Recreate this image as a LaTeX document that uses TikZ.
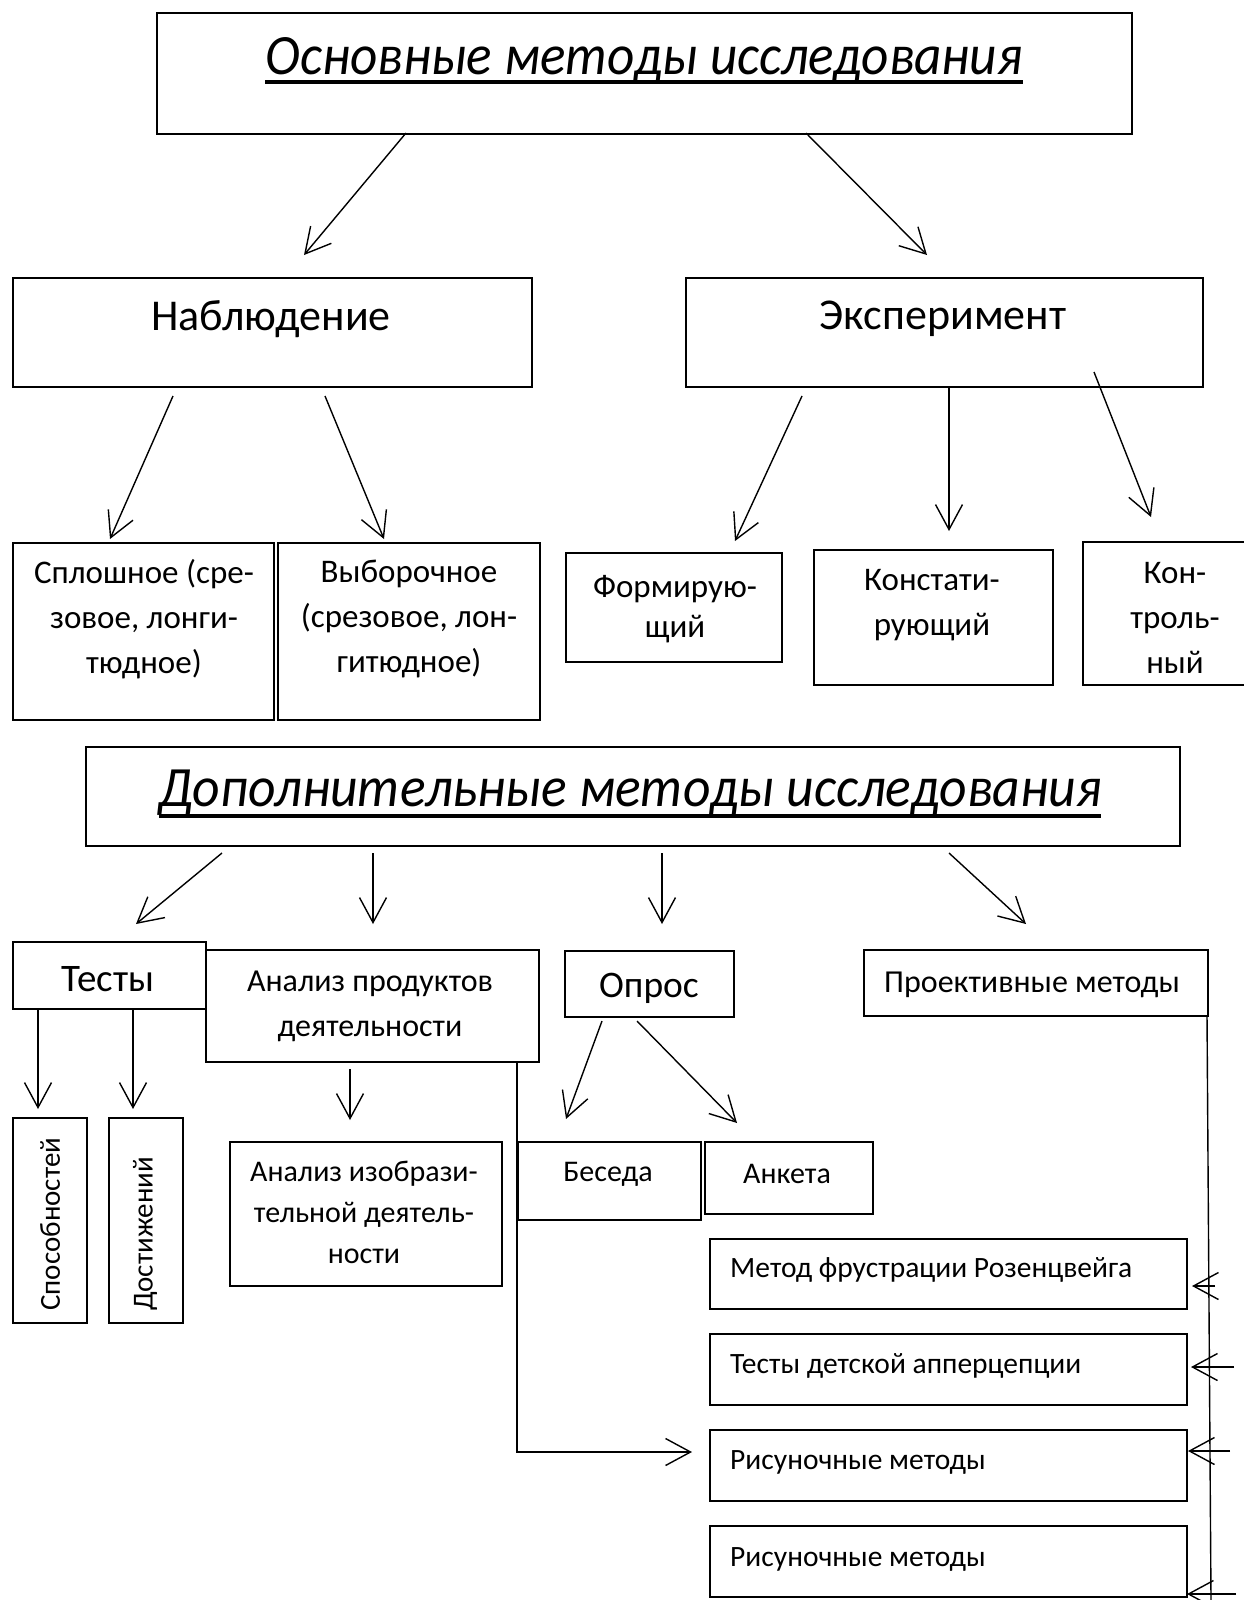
\documentclass[tikz,border=0pt]{standalone}
\usepackage{graphicx}
\usepackage{fontspec}
\setmainfont{Carlito}
\newsavebox\ulbox
\newcommand\thickul[2]{\sbox\ulbox{#2}\rlap{\rule[-#1]{\wd\ulbox}{4pt}}\usebox\ulbox}
\usetikzlibrary{arrows.meta}
\begin{document}
\begin{tikzpicture}[x=1pt,y=-1pt,
  bx/.style={draw, line width=1.6pt, inner sep=0pt, anchor=north west},
  tbx/.style={bx, line width=2.2pt},
  arr/.style={line width=1.4pt, -{Straight Barb[length=25pt,width=27pt,line width=1.4pt]}},
  ln/.style={line width=1.4pt},
  ttl/.style={inner sep=0pt, anchor=base, font=\fontsize{57}{70}\selectfont\itshape},
  big/.style={inner sep=0pt, align=center, yshift=-3pt, font=\fontsize{44}{52}\selectfont},
  mid/.style={inner sep=0pt, align=center, yshift=-2pt, font=\fontsize{33}{45}\selectfont},
  sm/.style={inner sep=0pt, align=center, yshift=-2pt, font=\fontsize{30}{41}\selectfont},
  rt/.style={inner sep=0pt, anchor=west, yshift=-3pt, font=\fontsize{29.5}{40}\selectfont}]
\useasboundingbox[fill=white] (0,0) rectangle (1244,1600);
% ---------- main methods
\node[tbx, minimum width=975pt, minimum height=121pt] (top) at (156,12) {};
\node[ttl] (ttop) at (644,74.5) {\scalebox{0.933}[1]{\thickul{10pt}{Основные методы исследования}}};
\node[bx, minimum width=519pt, minimum height=109pt] (nab) at (12,277) {};
\node[big] (tnab) at (271,316) {Наблюдение};
\node[bx, minimum width=517pt, minimum height=109pt] (exp) at (685,277) {};
\node[big] (texp) at (943,316) {Эксперимент};
% row 3
\node[bx, minimum width=261pt, minimum height=177pt] (spl) at (12,542) {};
\node[mid, yshift=1pt] (tspl) at (144,618) {Сплошное (сре-\\зовое, лонги-\\тюдное)};
\node[bx, minimum width=262pt, minimum height=177pt] (vyb) at (277,542) {};
\node[mid, yshift=1pt] (tvyb) at (409,618) {Выборочное\\(срезовое, лон-\\гитюдное)};
\node[bx, minimum width=216pt, minimum height=109pt] (form) at (565,552) {};
\node[mid, font=\fontsize{33}{40}\selectfont] (tform) at (675,607) {Формирую-\\щий};
\node[bx, minimum width=239pt, minimum height=135pt] (kon) at (813,549) {};
\node[mid, yshift=-1pt] (tkon) at (932,602) {Констати-\\рующий};
\node[bx, minimum width=170pt, minimum height=143pt] (kontr) at (1082,541) {};
\node[mid, yshift=1pt] (tkontr) at (1175,617) {Кон-\\троль-\\ный};
% ---------- additional methods
\node[tbx, minimum width=1094pt, minimum height=99pt] (dop) at (85,746) {};
\node[ttl] (tdop) at (630,806) {\scalebox{0.94}[1]{\thickul{12pt}{Дополнительные методы исследования}}};
\node[bx, minimum width=193pt, minimum height=67pt] (test) at (12,941) {};
\node[big, font=\fontsize{39}{48}\selectfont] (ttest) at (108,976) {Тесты};
\node[bx, minimum width=333pt, minimum height=112pt] (anal) at (205,949) {};
\node[mid, yshift=-1pt, font=\fontsize{32}{45}\selectfont] (tanal) at (370,1003) {Анализ продуктов\\деятельности};
\node[bx, minimum width=169pt, minimum height=66pt] (opr) at (564,950) {};
\node[big, font=\fontsize{37.5}{48}\selectfont] (topr) at (649,985) {Опрос};
\node[bx, minimum width=344pt, minimum height=66pt] (proj) at (863,949) {};
\node[mid, yshift=-1pt, font=\fontsize{32}{45}\selectfont] (tproj) at (1032,982) {Проективные методы};
% row 5
\node[bx, minimum width=74pt, minimum height=205pt] (sposob) at (12,1117) {};
\node[sm, rotate=90, anchor=west, yshift=2pt, font=\fontsize{29}{40}\selectfont] (tsposob) at (52,1309) {Способностей};
\node[bx, minimum width=74pt, minimum height=205pt] (dost) at (108,1117) {};
\node[sm, rotate=90, anchor=west, yshift=2pt, font=\fontsize{29}{40}\selectfont] (tdost) at (147,1309) {Достижений};
\node[bx, minimum width=272pt, minimum height=144pt] (izo) at (229,1141) {};
\node[sm, yshift=2pt] (tizo) at (364,1212) {Анализ изобрази-\\тельной деятель-\\ности};
\node[bx, minimum width=183pt, minimum height=78pt] (bes) at (517,1141) {};
\node[sm, yshift=-1pt] (tbes) at (608,1171) {Беседа};
\node[bx, minimum width=168pt, minimum height=72pt] (ank) at (704,1141) {};
\node[sm, yshift=-1pt] (tank) at (787,1171) {Анкета};
% right stack
\node[bx, minimum width=477pt, minimum height=70pt] (r1) at (709,1238) {};
\node[rt] (tr1) at (730,1267) {Метод фрустрации Розенцвейга};
\node[bx, minimum width=477pt, minimum height=71pt] (r2) at (709,1333) {};
\node[rt] (tr2) at (730,1363) {Тесты детской апперцепции};
\node[bx, minimum width=477pt, minimum height=71pt] (r3) at (709,1429) {};
\node[rt] (tr3) at (730,1459) {Рисуночные методы};
\node[bx, minimum width=477pt, minimum height=71pt] (r4) at (709,1525) {};
\node[rt] (tr4) at (730,1556) {Рисуночные методы};
% ---------- connector end points
\coordinate (a1s) at (406,133); \coordinate (a1e) at (304,255);
\coordinate (a2s) at (806,133); \coordinate (a2e) at (927,255);
\coordinate (b1s) at (173,396); \coordinate (b1e) at (110,539);
\coordinate (b2s) at (325,396); \coordinate (b2e) at (384,539);
\coordinate (c1s) at (802,396); \coordinate (c1e) at (735,541);
\coordinate (c2s) at (949,386); \coordinate (c2e) at (949,531);
\coordinate (c3s) at (1094,372); \coordinate (c3e) at (1151,517);
\coordinate (d1s) at (222,853); \coordinate (d1e) at (136,924);
\coordinate (d2s) at (373,853); \coordinate (d2e) at (373,924);
\coordinate (d3s) at (662,853); \coordinate (d3e) at (662,924);
\coordinate (d4s) at (949,853); \coordinate (d4e) at (1026,924);
\coordinate (e1s) at (38,1010); \coordinate (e1e) at (38,1109);
\coordinate (e2s) at (133,1010); \coordinate (e2e) at (133,1109);
\coordinate (f1s) at (350,1069); \coordinate (f1e) at (350,1120);
\coordinate (g1s) at (602,1021); \coordinate (g1e) at (566,1119);
\coordinate (g2s) at (637,1021); \coordinate (g2e) at (737,1123);
\coordinate (hs) at (517,1061); \coordinate (hc) at (517,1452); \coordinate (he) at (692,1452);
\coordinate (vs) at (1207,1015); \coordinate (ve) at (1211,1600);
\coordinate (r1s) at (1215,1286); \coordinate (r1e) at (1192,1286);
\coordinate (r2s) at (1234,1367); \coordinate (r2e) at (1191,1367);
\coordinate (r3s) at (1230,1451); \coordinate (r3e) at (1188,1451);
\coordinate (r4s) at (1236,1594); \coordinate (r4e) at (1187,1594);
% ---------- connectors
\draw[arr] (a1s) -- (a1e);
\draw[arr] (a2s) -- (a2e);
\draw[arr] (b1s) -- (b1e);
\draw[arr] (b2s) -- (b2e);
\draw[arr] (c1s) -- (c1e);
\draw[arr] (c2s) -- (c2e);
\draw[arr] (c3s) -- (c3e);
\draw[arr] (d1s) -- (d1e);
\draw[arr] (d2s) -- (d2e);
\draw[arr] (d3s) -- (d3e);
\draw[arr] (d4s) -- (d4e);
\draw[arr] (e1s) -- (e1e);
\draw[arr] (e2s) -- (e2e);
\draw[arr] (f1s) -- (f1e);
\draw[arr] (g1s) -- (g1e);
\draw[arr] (g2s) -- (g2e);
\draw[arr] (hs) -- (hc) -- (he);
\draw[ln] (vs) -- (ve);
\draw[arr] (r1s) -- (r1e);
\draw[arr] (r2s) -- (r2e);
\draw[arr] (r3s) -- (r3e);
\draw[arr] (r4s) -- (r4e);
\end{tikzpicture}
\end{document}
